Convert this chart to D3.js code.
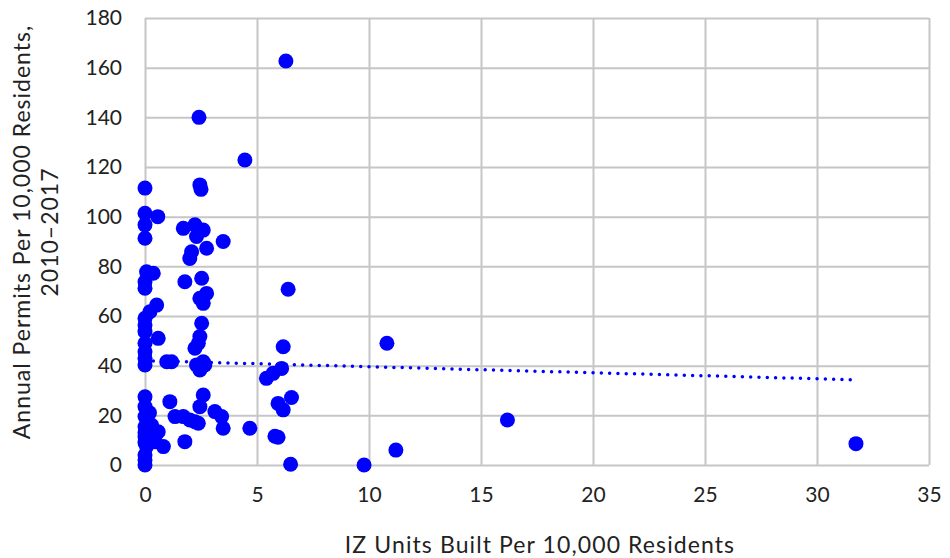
<!DOCTYPE html>
<html>
<head>
<meta charset="utf-8">
<script src="https://cdn.jsdelivr.net/npm/d3@7"></script>
<style>
  html, body { margin: 0; padding: 0; background: #fff; }
  svg text { font-family: Lato, "Liberation Sans", sans-serif; fill: #222; }
</style>
</head>
<body>
<svg id="chart" width="950" height="558"></svg>
<script>
// IZ units built (x) vs. annual permits (y), per 10,000 residents
const izUnits = [
  0, 0, 0, 0, 0, 0, 0, 0, 0, 0, 0, 0, 0, 0, 0, 0, 0, 0, 0.07, 0, 0, 0, 0, 0, 0.1,
  0.57, 0.07, 0.37, 0.52, 0.22, 0.59, 0.97, 1.19, 1.11, 0.52, 0.82, 0.59, 0.45, 0.3, 0.2,
  2.41, 2.45, 2.5, 1.71, 2.23, 2.6, 2.3, 3.49, 2.75, 2.08, 2.0, 1.78, 2.53, 2.75, 2.45,
  2.6, 2.53, 2.45, 2.38, 2.23, 2.3, 2.67, 2.45, 2.6, 2.6, 2.45, 3.12, 3.42, 3.49, 1.34,
  1.71, 2.0, 2.38, 1.78, 2.23, 4.68, 4.46,
  6.29, 6.39, 6.17, 10.8, 5.42, 5.72, 6.1, 5.94, 6.54, 6.17, 5.8, 5.94, 6.5, 9.78, 11.2,
  16.18, 31.74
];
const permits = [
  111.5, 101.4, 96.7, 91.3, 73.8, 71.2, 59.1, 56.4, 53.7, 49, 45.6, 43, 40.3, 27.5, 23.5, 19.5, 15.4, 11.4, 7.4, 4, 0, 2, 9, 13, 17,
  100, 77.8, 77.2, 64.4, 61.7, 51, 41.6, 41.6, 25.5, 12.7, 7.4, 13.4, 9.4, 16, 21,
  140, 112.8, 111, 95.3, 96.7, 94.6, 92, 90, 87.3, 85.9, 83.2, 73.8, 75.2, 69.1, 67.1,
  65.1, 57.1, 51.7, 49, 47, 40.3, 40.3, 38.3, 41.6, 28.2, 23.5, 21.5, 19.5, 14.8, 19.5,
  19.5, 18.1, 16.8, 9.4, 17.4, 14.8, 122.8,
  162.7, 70.8, 47.6, 49, 34.9, 36.9, 38.9, 24.8, 27.2, 22.2, 11.6, 11.2, 0.3, 0, 6,
  18.1, 8.6
];
// linear trendline end points (x, y)
const trendX = [0, 31.74];
const trendY = [42, 34.3];

const xTicks = [0, 5, 10, 15, 20, 25, 30, 35];
const yTicks = [0, 20, 40, 60, 80, 100, 120, 140, 160, 180];

const svg = d3.select("#chart");
const plotLeft = 145, plotRight = 929, plotTop = 18, plotBottom = 465;

const x = d3.scaleLinear().domain([0, 35]).range([plotLeft, plotRight]);
const y = d3.scaleLinear().domain([0, 180]).range([plotBottom, plotTop]);

// gridlines
svg.append("g")
  .attr("transform", `translate(0,${plotBottom})`)
  .call(d3.axisBottom(x).tickValues(xTicks).tickSize(-(plotBottom - plotTop)).tickFormat(""))
  .call(g => g.select(".domain").remove())
  .call(g => g.selectAll("line").attr("stroke", "#c6c6c6").attr("stroke-width", 2));
svg.append("g")
  .attr("transform", `translate(${plotLeft},0)`)
  .call(d3.axisLeft(y).tickValues(yTicks).tickSize(-(plotRight - plotLeft)).tickFormat(""))
  .call(g => g.select(".domain").remove())
  .call(g => g.selectAll("line").attr("stroke", "#c6c6c6").attr("stroke-width", 2));

// tick labels
svg.append("g")
  .attr("transform", `translate(0,${plotBottom})`)
  .call(d3.axisBottom(x).tickValues(xTicks).tickSize(0).tickPadding(22))
  .call(g => g.select(".domain").remove())
  .call(g => g.selectAll("text").attr("font-size", 21).attr("font-family", "Lato, sans-serif").attr("fill", "#222"));
svg.append("g")
  .attr("transform", `translate(${plotLeft},0)`)
  .call(d3.axisLeft(y).tickValues(yTicks).tickSize(0).tickPadding(23))
  .call(g => g.select(".domain").remove())
  .call(g => g.selectAll("text").attr("font-size", 21).attr("font-family", "Lato, sans-serif").attr("fill", "#222"));

// points
svg.append("g")
  .selectAll("circle")
  .data(izUnits.map((v, i) => [v, permits[i]]))
  .join("circle")
  .attr("cx", d => x(d[0]))
  .attr("cy", d => y(d[1]))
  .attr("r", 7.5)
  .attr("fill", "#0000ff");

// dotted trendline
svg.append("line")
  .attr("x1", x(trendX[0])).attr("y1", y(trendY[0]))
  .attr("x2", x(trendX[1])).attr("y2", y(trendY[1]))
  .attr("stroke", "#0000ff")
  .attr("stroke-width", 3.5)
  .attr("stroke-linecap", "round")
  .attr("stroke-dasharray", "0 8.3");

// axis titles
svg.append("text")
  .attr("x", 540)
  .attr("y", 553)
  .attr("text-anchor", "middle")
  .attr("font-size", 23)
  .attr("letter-spacing", 1.1)
  .text("IZ Units Built Per 10,000 Residents");

const yt = svg.append("text")
  .attr("transform", "translate(0,232) rotate(-90)")
  .attr("text-anchor", "middle")
  .attr("font-size", 23)
  .attr("letter-spacing", 1);
yt.append("tspan").attr("x", 0).attr("y", 30).text("Annual Permits Per 10,000 Residents,");
yt.append("tspan").attr("x", 0).attr("y", 58).text("2010–2017");
</script>
</body>
</html>
